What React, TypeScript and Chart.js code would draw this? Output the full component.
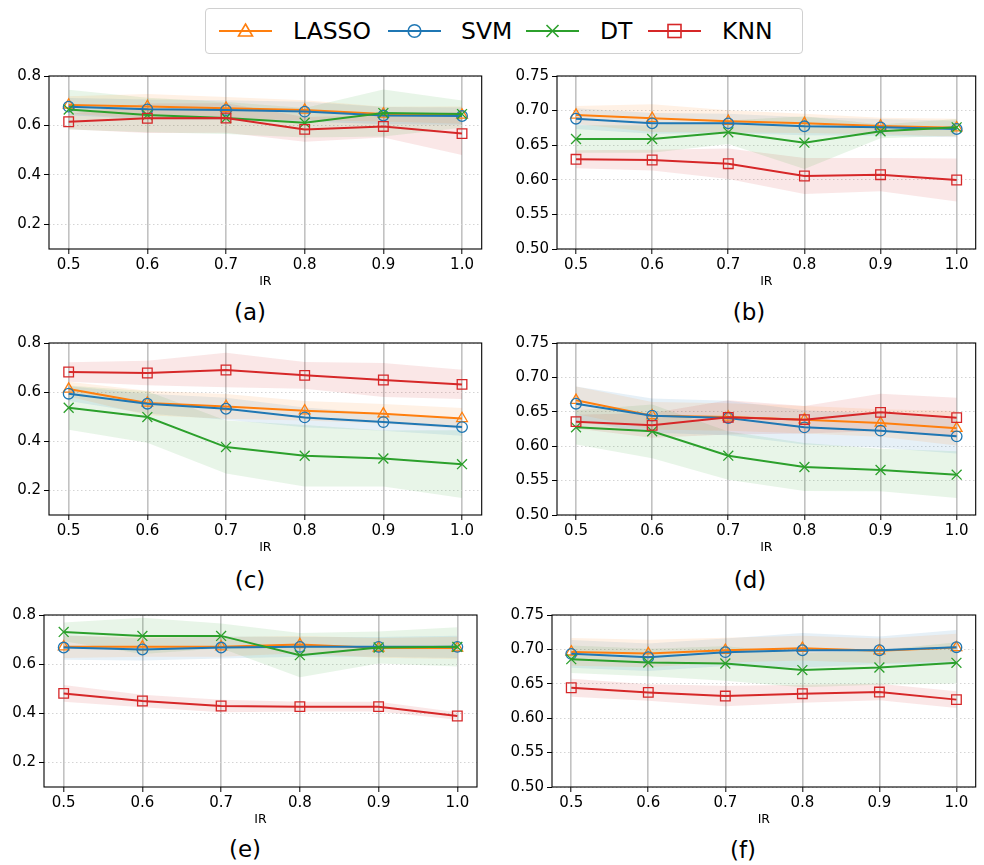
import React, { useEffect, useRef } from "react";
import { Chart, registerables } from "chart.js";

Chart.register(...registerables);

// ---------------- data ----------------
const IR = [0.5, 0.6, 0.7, 0.8, 0.9, 1.0];
const METHODS = ["LASSO", "SVM", "DT", "KNN"];
const COLORS = ["#ff7f0e", "#1f77b4", "#2ca02c", "#d62728"];
const FILLS = ["rgba(255,127,14,0.11)", "rgba(31,119,180,0.11)", "rgba(44,160,44,0.11)", "rgba(214,39,40,0.11)"];
const MARKERS = ["triangle", "circle", "crossRot", "rect"];
const MARKER_RADIUS = [6.2, 5.3, 7, 6.8];

const Y_TICKS_WIDE = [0.2, 0.4, 0.6, 0.8];
const Y_TICKS_NARROW = [0.5, 0.55, 0.6, 0.65, 0.7, 0.75];

// (a)
const A_LASSO = [0.683, 0.677, 0.670, 0.662, 0.646, 0.642];
const A_LASSO_SD = [0.035, 0.05, 0.045, 0.04, 0.03, 0.035];
const A_SVM = [0.676, 0.665, 0.662, 0.656, 0.640, 0.638];
const A_SVM_SD = [0.035, 0.04, 0.04, 0.04, 0.035, 0.035];
const A_DT = [0.664, 0.642, 0.630, 0.611, 0.650, 0.646];
const A_DT_SD = [0.08, 0.07, 0.065, 0.06, 0.095, 0.055];
const A_KNN = [0.615, 0.629, 0.630, 0.584, 0.596, 0.567];
const A_KNN_SD = [0.03, 0.06, 0.06, 0.05, 0.045, 0.087];

// (b)
const B_LASSO = [0.6936, 0.689, 0.6845, 0.6816, 0.6777, 0.6753];
const B_LASSO_SD = [0.013, 0.02, 0.016, 0.014, 0.012, 0.013];
const B_SVM = [0.6883, 0.6816, 0.6816, 0.6773, 0.6758, 0.6734];
const B_SVM_SD = [0.015, 0.015, 0.014, 0.013, 0.012, 0.012];
const B_DT = [0.659, 0.659, 0.6686, 0.6537, 0.670, 0.6758];
const B_DT_SD = [0.02, 0.02, 0.017, 0.038, 0.01, 0.012];
const B_KNN = [0.6296, 0.6286, 0.6233, 0.6055, 0.6074, 0.5997];
const B_KNN_SD = [0.013, 0.015, 0.022, 0.026, 0.024, 0.031];

// (c)
const C_LASSO = [0.6126, 0.5556, 0.542, 0.5244, 0.512, 0.493];
const C_LASSO_SD = [0.03, 0.05, 0.05, 0.04, 0.04, 0.042];
const C_SVM = [0.5936, 0.553, 0.5325, 0.4972, 0.478, 0.4578];
const C_SVM_SD = [0.03, 0.04, 0.045, 0.04, 0.035, 0.035];
const C_DT = [0.5366, 0.4986, 0.3764, 0.341, 0.330, 0.307];
const C_DT_SD = [0.09, 0.105, 0.108, 0.125, 0.114, 0.138];
const C_KNN = [0.6819, 0.6778, 0.690, 0.6683, 0.6493, 0.6316];
const C_KNN_SD = [0.04, 0.05, 0.07, 0.054, 0.069, 0.06];

// (d)
const D_LASSO = [0.6667, 0.6444, 0.6424, 0.6386, 0.6337, 0.626];
const D_LASSO_SD = [0.02, 0.02, 0.02, 0.02, 0.02, 0.025];
const D_SVM = [0.6618, 0.6444, 0.641, 0.6274, 0.6226, 0.6143];
const D_SVM_SD = [0.025, 0.025, 0.025, 0.025, 0.025, 0.025];
const D_DT = [0.6274, 0.6216, 0.5862, 0.5698, 0.5654, 0.5586];
const D_DT_SD = [0.025, 0.039, 0.035, 0.035, 0.031, 0.034];
const D_KNN = [0.6357, 0.6303, 0.6419, 0.6386, 0.6492, 0.6415];
const D_KNN_SD = [0.01, 0.018, 0.025, 0.02, 0.027, 0.029];

// (e)
const E_LASSO = [0.6703, 0.6703, 0.6703, 0.6797, 0.6662, 0.6662];
const E_LASSO_SD = [0.045, 0.04, 0.04, 0.035, 0.04, 0.045];
const E_SVM = [0.6676, 0.6595, 0.6676, 0.6703, 0.6703, 0.6703];
const E_SVM_SD = [0.05, 0.045, 0.045, 0.04, 0.04, 0.045];
const E_DT = [0.731, 0.715, 0.715, 0.6365, 0.6676, 0.6703];
const E_DT_SD = [0.038, 0.074, 0.05, 0.09, 0.065, 0.08];
const E_KNN = [0.481, 0.45, 0.4297, 0.427, 0.427, 0.389];
const E_KNN_SD = [0.034, 0.025, 0.025, 0.02, 0.02, 0.015];

// (f)
const F_LASSO = [0.6964, 0.694, 0.6988, 0.7017, 0.6979, 0.7027];
const F_LASSO_SD = [0.02, 0.02, 0.018, 0.018, 0.018, 0.02];
const F_SVM = [0.6935, 0.6887, 0.696, 0.6988, 0.6988, 0.7032];
const F_SVM_SD = [0.02, 0.02, 0.02, 0.025, 0.02, 0.025];
const F_DT = [0.6858, 0.681, 0.6795, 0.6699, 0.6737, 0.6805];
const F_DT_SD = [0.02, 0.02, 0.025, 0.025, 0.025, 0.03];
const F_KNN = [0.6443, 0.6375, 0.6322, 0.6356, 0.638, 0.627];
const F_KNN_SD = [0.013, 0.012, 0.015, 0.013, 0.012, 0.012];

// ---------------- layout ----------------
const FONT = "DejaVu Sans";
const PAD_T = 12;
const PAD_B = 40;

type PanelCfg = {
  tag: string;
  means: number[][];
  sds: number[][];
  yMin: number;
  yMax: number;
  yTicks: number[];
  dec: number;
  L: number; T: number; R: number; B: number;
  cl: number; cr: number;
  lx: number; ly: number;
};

const PANELS: PanelCfg[] = [
  { tag: "(a)", means: [A_LASSO, A_SVM, A_DT, A_KNN], sds: [A_LASSO_SD, A_SVM_SD, A_DT_SD, A_KNN_SD],
    yMin: 0.1, yMax: 0.8, yTicks: Y_TICKS_WIDE, dec: 1, L: 49, T: 76, R: 483, B: 249, cl: 0, cr: 490, lx: 250, ly: 312 },
  { tag: "(b)", means: [B_LASSO, B_SVM, B_DT, B_KNN], sds: [B_LASSO_SD, B_SVM_SD, B_DT_SD, B_KNN_SD],
    yMin: 0.5, yMax: 0.75, yTicks: Y_TICKS_NARROW, dec: 2, L: 557, T: 76, R: 981, B: 249, cl: 490, cr: 984, lx: 749, ly: 312 },
  { tag: "(c)", means: [C_LASSO, C_SVM, C_DT, C_KNN], sds: [C_LASSO_SD, C_SVM_SD, C_DT_SD, C_KNN_SD],
    yMin: 0.1, yMax: 0.8, yTicks: Y_TICKS_WIDE, dec: 1, L: 49, T: 343, R: 483, B: 515, cl: 0, cr: 490, lx: 250, ly: 580 },
  { tag: "(d)", means: [D_LASSO, D_SVM, D_DT, D_KNN], sds: [D_LASSO_SD, D_SVM_SD, D_DT_SD, D_KNN_SD],
    yMin: 0.5, yMax: 0.75, yTicks: Y_TICKS_NARROW, dec: 2, L: 557, T: 343, R: 981, B: 515, cl: 490, cr: 984, lx: 750, ly: 580 },
  { tag: "(e)", means: [E_LASSO, E_SVM, E_DT, E_KNN], sds: [E_LASSO_SD, E_SVM_SD, E_DT_SD, E_KNN_SD],
    yMin: 0.1, yMax: 0.8, yTicks: Y_TICKS_WIDE, dec: 1, L: 44, T: 615, R: 477, B: 787, cl: 0, cr: 490, lx: 245, ly: 849 },
  { tag: "(f)", means: [F_LASSO, F_SVM, F_DT, F_KNN], sds: [F_LASSO_SD, F_SVM_SD, F_DT_SD, F_KNN_SD],
    yMin: 0.5, yMax: 0.75, yTicks: Y_TICKS_NARROW, dec: 2, L: 552, T: 615, R: 976, B: 787, cl: 490, cr: 984, lx: 743, ly: 850 },
];

const framePlugin = {
  id: "frame",
  afterDatasetsDraw(chart: any) {
    const { ctx, chartArea } = chart;
    const { left, top, right, bottom } = chartArea;
    ctx.save();
    ctx.strokeStyle = "#000";
    ctx.lineWidth = 1.1;
    ctx.strokeRect(left, top, right - left, bottom - top);
    ctx.restore();
  },
};

function Panel({ cfg }: { cfg: PanelCfg }) {
  const ref = useRef<HTMLCanvasElement>(null);
  const width = cfg.cr - cfg.cl;
  const height = PAD_T + (cfg.B - cfg.T) + PAD_B;

  useEffect(() => {
    if (!ref.current) return;
    const datasets: any[] = [];
    cfg.means.forEach((m, k) => {
      const sd = cfg.sds[k];
      datasets.push({
        label: METHODS[k] + " upper",
        data: IR.map((x, i) => ({ x, y: m[i] + sd[i] })),
        borderColor: "rgba(0,0,0,0)",
        borderWidth: 0,
        pointRadius: 0,
        fill: false,
        order: 20,
      });
      datasets.push({
        label: METHODS[k] + " lower",
        data: IR.map((x, i) => ({ x, y: m[i] - sd[i] })),
        borderColor: "rgba(0,0,0,0)",
        borderWidth: 0,
        pointRadius: 0,
        fill: "-1",
        backgroundColor: FILLS[k],
        order: 20,
      });
    });
    cfg.means.forEach((m, k) => {
      datasets.push({
        label: METHODS[k],
        data: IR.map((x, i) => ({ x, y: m[i] })),
        borderColor: COLORS[k],
        backgroundColor: "rgba(0,0,0,0)",
        borderWidth: 2,
        pointStyle: MARKERS[k],
        pointRadius: MARKER_RADIUS[k],
        pointBorderColor: COLORS[k],
        pointBackgroundColor: "rgba(0,0,0,0)",
        pointBorderWidth: 1.3,
        fill: false,
        tension: 0,
        order: 4 - k,
      });
    });

    const chart = new Chart(ref.current, {
      type: "line",
      data: { datasets },
      plugins: [framePlugin],
      options: {
        animation: false,
        responsive: false,
        events: [],
        layout: { padding: { top: PAD_T, right: cfg.cr - cfg.R, left: 0, bottom: 0 } },
        plugins: { legend: { display: false }, tooltip: { enabled: false }, title: { display: false } },
        scales: {
          x: {
            type: "linear",
            min: 0.475,
            max: 1.025,
            afterBuildTicks: (s: any) => {
              s.ticks = IR.map((v) => ({ value: v }));
            },
            afterFit: (s: any) => {
              s.height = PAD_B;
            },
            ticks: {
              callback: (v: any) => Number(v).toFixed(1),
              font: { family: FONT, size: 15 },
              color: "#000",
              padding: 2,
              maxRotation: 0,
              autoSkip: false,
            },
            grid: { color: "#c2c2c2", lineWidth: 1.6, tickColor: "#000", tickLength: 5, tickWidth: 1 },
            border: { display: false },
            title: {
              display: true,
              text: "IR",
              font: { family: FONT, size: 12.5 },
              color: "#000",
              padding: { top: 0, bottom: 0 },
            },
          },
          y: {
            type: "linear",
            min: cfg.yMin,
            max: cfg.yMax,
            afterBuildTicks: (s: any) => {
              s.ticks = cfg.yTicks.map((v) => ({ value: v }));
            },
            afterFit: (s: any) => {
              s.width = cfg.L - cfg.cl;
            },
            ticks: {
              callback: (v: any) => Number(v).toFixed(cfg.dec),
              font: { family: FONT, size: 15 },
              color: "#000",
              padding: 3,
            },
            grid: { color: "#d4d4d4", lineWidth: 1, tickColor: "#000", tickLength: 5, tickWidth: 1, tickBorderDash: [] },
            border: { display: false, dash: [1.5, 2.5] },
          },
        },
      } as any,
    });
    return () => chart.destroy();
  }, [cfg]);

  return (
    <>
      <canvas
        ref={ref}
        width={width}
        height={height}
        style={{ position: "absolute", left: cfg.cl, top: cfg.T - PAD_T, width, height }}
      />
      <div
        style={{
          position: "absolute",
          left: cfg.lx,
          top: cfg.ly,
          transform: "translate(-50%, -50%)",
          fontFamily: FONT,
          fontSize: 23,
          lineHeight: "23px",
          color: "#000",
          whiteSpace: "nowrap",
        }}
      >
        {cfg.tag}
      </div>
    </>
  );
}

function LegendMarker({ k }: { k: number }) {
  const c = COLORS[k];
  const cx = 26.5, cy = 10;
  let shape: any = null;
  if (k === 0) {
    shape = <polygon points={`${cx},${cy - 7} ${cx + 7},${cy + 5} ${cx - 7},${cy + 5}`} fill="none" stroke={c} strokeWidth={1.6} />;
  } else if (k === 1) {
    shape = <circle cx={cx} cy={cy} r={6.3} fill="none" stroke={c} strokeWidth={1.6} />;
  } else if (k === 2) {
    shape = (
      <g stroke={c} strokeWidth={1.6}>
        <line x1={cx - 6} y1={cy - 6} x2={cx + 6} y2={cy + 6} />
        <line x1={cx - 6} y1={cy + 6} x2={cx + 6} y2={cy - 6} />
      </g>
    );
  } else {
    shape = <rect x={cx - 6.5} y={cy - 6.5} width={13} height={13} fill="none" stroke={c} strokeWidth={1.6} />;
  }
  return (
    <svg width={53} height={20} style={{ display: "block" }}>
      <line x1={0} y1={cy} x2={53} y2={cy} stroke={c} strokeWidth={2.2} />
      {shape}
    </svg>
  );
}

const LEGEND_HANDLE_X = [219, 388, 526, 648];
const LEGEND_TEXT_X = [293, 461, 600, 722];

function Legend() {
  return (
    <>
      <div
        style={{
          position: "absolute",
          left: 205,
          top: 8,
          width: 596,
          height: 44,
          border: "1px solid #d0d0d0",
          borderRadius: 4,
          background: "#fff",
        }}
      />
      {METHODS.map((m, k) => (
        <React.Fragment key={m}>
          <div style={{ position: "absolute", left: LEGEND_HANDLE_X[k], top: 21 }}>
            <LegendMarker k={k} />
          </div>
          <div
            style={{
              position: "absolute",
              left: LEGEND_TEXT_X[k],
              top: 31,
              transform: "translateY(-50%)",
              fontFamily: FONT,
              fontSize: 23.5,
              lineHeight: "24px",
              color: "#000",
              whiteSpace: "nowrap",
            }}
          >
            {m}
          </div>
        </React.Fragment>
      ))}
    </>
  );
}

export default function App() {
  return (
    <div style={{ position: "absolute", left: 0, top: 0, width: 984, height: 865, background: "#fff", overflow: "hidden" }}>
      <Legend />
      {PANELS.map((p) => (
        <Panel key={p.tag} cfg={p} />
      ))}
    </div>
  );
}
